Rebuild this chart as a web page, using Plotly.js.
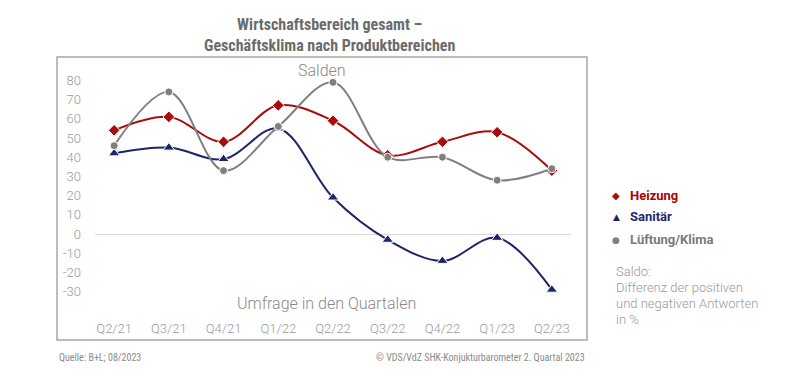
<!DOCTYPE html>
<html>
<head>
<meta charset="utf-8">
<script src="https://cdn.plot.ly/plotly-3.0.1.min.js"></script>
<style>
  html, body { margin: 0; padding: 0; background: #ffffff; }
  #chart { width: 800px; height: 377px; }
</style>
</head>
<body>
<div id="chart"></div>
<script>
// ---- Data ----
const quarters = ["Q2/21", "Q3/21", "Q4/21", "Q1/22", "Q2/22", "Q3/22", "Q4/22", "Q1/23", "Q2/23"];
const heizung = [54, 61, 48, 67, 59, 41, 48, 53, 33];
const sanitaer = [42, 45, 39, 55, 19, -3, -14, -2, -29];
const lueftung = [46, 74, 33, 56, 79, 40, 40, 28, 34];
const yTickValues = [-30, -20, -10, 0, 10, 20, 30, 40, 50, 60, 70, 80];
const seriesNames = ["Heizung", "Sanitär", "Lüftung/Klima"];

// ---- Layout geometry (pixels) ----
const W = 800, H = 377;
const plotL = 95, plotR = 571, plotT = 60, plotB = 315;
const pw = plotR - plotL, ph = plotB - plotT;
const px = x => (x - plotL) / pw;
const py = y => (plotB - y) / ph;
const pxPerUnit = 1.92, zeroY = 234;
const yRange = [(zeroY - plotB) / pxPerUnit, (zeroY - plotT) / pxPerUnit];

const colors = { heiz: "#a80d0d", san: "#1d2468", lue: "#7f7f7f" };
const xs = quarters.map((q, i) => i);

function trace(y, name, color, symbol, size) {
  return {
    x: xs, y: y, name: name, type: "scatter", mode: "lines+markers",
    line: { color: color, width: 2, shape: "spline", smoothing: 1 },
    marker: { color: color, symbol: symbol, size: size, line: { color: "#ffffff", width: 1 } },
    showlegend: false, hoverinfo: "skip"
  };
}

const data = [
  trace(heizung, seriesNames[0], colors.heiz, "diamond", 9),
  trace(sanitaer, seriesNames[1], colors.san, "triangle-up", 10),
  trace(lueftung, seriesNames[2], colors.lue, "circle", 8)
];

const lightFont = { family: "Roboto, sans-serif", size: 13, color: "#9a9a9a", weight: 300 };
const footFont = { family: "Roboto Condensed, Liberation Sans Narrow, Roboto, sans-serif", size: 10, color: "#8a8a8a" };

const annotations = [
  { text: "Salden", x: px(321.5), y: py(71), xref: "paper", yref: "paper", showarrow: false,
    xanchor: "center", yanchor: "middle", font: { family: "Roboto, sans-serif", size: 16, color: "#8a8a8a", weight: 300 } },
  { text: "Umfrage in den Quartalen", x: px(326), y: py(303), xref: "paper", yref: "paper", showarrow: false,
    xanchor: "center", yanchor: "middle", font: { family: "Roboto, sans-serif", size: 16, color: "#8a8a8a", weight: 300 } },
  // legend symbols
  { text: "◆", x: px(616), y: py(195), xref: "paper", yref: "paper", showarrow: false,
    xanchor: "center", yanchor: "middle", font: { family: "DejaVu Sans", size: 10, color: colors.heiz } },
  { text: "▲", x: px(616), y: py(216.5), xref: "paper", yref: "paper", showarrow: false,
    xanchor: "center", yanchor: "middle", font: { family: "DejaVu Sans", size: 9, color: colors.san } },
  { text: "●", x: px(616), y: py(240.5), xref: "paper", yref: "paper", showarrow: false,
    xanchor: "center", yanchor: "middle", font: { family: "DejaVu Sans", size: 9, color: colors.lue } },
  // legend labels
  { text: "<b>" + seriesNames[0] + "</b>", x: px(628), y: py(195), xref: "paper", yref: "paper", showarrow: false,
    xanchor: "left", yanchor: "middle", font: { family: "Roboto, sans-serif", size: 13, color: "#b00000" } },
  { text: "<b>" + seriesNames[1] + "</b>", x: px(628), y: py(216.5), xref: "paper", yref: "paper", showarrow: false,
    xanchor: "left", yanchor: "middle", font: { family: "Roboto, sans-serif", size: 13, color: "#1f2870" } },
  { text: "<b>" + seriesNames[2] + "</b>", x: px(628), y: py(240), xref: "paper", yref: "paper", showarrow: false,
    xanchor: "left", yanchor: "middle", font: { family: "Roboto, sans-serif", size: 13, color: "#7a7a7a" } },
  // note
  { text: "Saldo:", x: px(614), y: py(271), xref: "paper", yref: "paper", showarrow: false,
    xanchor: "left", yanchor: "middle", font: lightFont },
  { text: "Differenz der positiven", x: px(614), y: py(287), xref: "paper", yref: "paper", showarrow: false,
    xanchor: "left", yanchor: "middle", font: lightFont },
  { text: "und negativen Antworten", x: px(614), y: py(303), xref: "paper", yref: "paper", showarrow: false,
    xanchor: "left", yanchor: "middle", font: lightFont },
  { text: "in %", x: px(614), y: py(319), xref: "paper", yref: "paper", showarrow: false,
    xanchor: "left", yanchor: "middle", font: lightFont },
  // footer
  { text: "Quelle: B+L; 08/2023", x: px(57), y: py(357.5), xref: "paper", yref: "paper", showarrow: false,
    xanchor: "left", yanchor: "middle", font: footFont },
  { text: "© VDS/VdZ SHK-Konjukturbarometer 2. Quartal 2023", x: px(587), y: py(357.5), xref: "paper", yref: "paper", showarrow: false,
    xanchor: "right", yanchor: "middle", font: footFont }
];

const layout = {
  width: W, height: H,
  margin: { l: plotL, r: W - plotR, t: plotT, b: H - plotB, pad: 0 },
  paper_bgcolor: "#ffffff", plot_bgcolor: "rgba(0,0,0,0)",
  title: {
    text: "<b>Wirtschaftsbereich gesamt –</b><br><b>Geschäftsklima nach Produktbereichen</b>",
    x: px(329.7), xref: "paper", xanchor: "center",
    y: 1 - 30 / H, yref: "container", yanchor: "top",
    font: { family: "Roboto Condensed, Liberation Sans Narrow, Roboto, sans-serif", size: 16, color: "#6b6b6b" }
  },
  xaxis: {
    range: [-0.35, 8.35], tickvals: xs, ticktext: quarters,
    showgrid: false, zeroline: false, showline: false, ticks: "",
    ticklabelstandoff: 4,
    tickfont: { family: "Roboto, sans-serif", size: 13, color: "#9a9a9a", weight: 300 },
    fixedrange: true
  },
  yaxis: {
    range: yRange, tickvals: yTickValues, ticktext: yTickValues.map(String),
    showgrid: false, zeroline: true, zerolinecolor: "#d9d9d9", zerolinewidth: 1,
    showline: false, ticks: "", ticklabelstandoff: 13,
    tickfont: { family: "Roboto, sans-serif", size: 13, color: "#9a9a9a", weight: 300 },
    fixedrange: true
  },
  shapes: [
    { type: "rect", xref: "paper", yref: "paper", x0: px(57), x1: px(587), y0: py(340), y1: py(57),
      line: { color: "#a6a6a6", width: 1.5 }, fillcolor: "rgba(0,0,0,0)", layer: "below" }
  ],
  annotations: annotations,
  showlegend: false,
  hovermode: false
};

Plotly.newPlot("chart", data, layout, { displayModeBar: false, staticPlot: true });
</script>
</body>
</html>
